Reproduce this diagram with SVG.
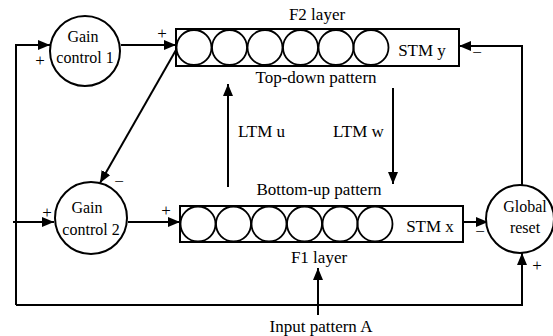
<svg xmlns="http://www.w3.org/2000/svg" width="553" height="336" viewBox="0 0 553 336">
<style>
text{font-family:"Liberation Serif","Times New Roman",serif;fill:#000}
.lbl{font-size:17px}
.nl{font-size:16px;text-anchor:middle}
.c{text-anchor:middle}
.ln{fill:none;stroke:#000;stroke-width:2}
.sh{fill:#fff;stroke:#000;stroke-width:2}
.cell{fill:none;stroke:#000;stroke-width:1.8}
.sg{font-size:17px;text-anchor:middle}
</style>
<defs>
<marker id="ah" markerWidth="12" markerHeight="10" refX="12" refY="5" orient="auto" markerUnits="userSpaceOnUse">
<path d="M0,0 L12,5 L0,10 Z" fill="#000"/>
</marker>
</defs>
<rect width="553" height="336" fill="#fff"/>
<g id="connectors">
<path class="ln" d="M16,305 V45 H50" marker-end="url(#ah)"/>
<path class="ln" d="M121,45 H176" marker-end="url(#ah)"/>
<path class="ln" d="M176,50 L100,183" marker-end="url(#ah)"/>
<path class="ln" d="M13,222 H54" marker-end="url(#ah)"/>
<path class="ln" d="M128,222 H180" marker-end="url(#ah)"/>
<path class="ln" d="M228,187 V84" marker-end="url(#ah)"/>
<path class="ln" d="M393,88 V184" marker-end="url(#ah)"/>
<path class="ln" d="M463,222 H488" marker-end="url(#ah)"/>
<path class="ln" d="M522,185 V46 H459" marker-end="url(#ah)"/>
<path class="ln" d="M16,305 H522 V253" marker-end="url(#ah)"/>
<path class="ln" d="M318,315 V268" marker-end="url(#ah)"/>
<text class="sg" x="162" y="39">+</text>
<text class="sg" x="40" y="66">+</text>
<text class="sg" x="47" y="218">+</text>
<text class="sg" x="166" y="216">+</text>
<text class="sg" x="537" y="271">+</text>
<text class="sg" x="477" y="58">−</text>
<text class="sg" x="119" y="187">−</text>
<text class="sg" x="480" y="237">−</text>
<text class="lbl" x="238" y="137">LTM u</text>
<text class="lbl" x="333" y="137">LTM w</text>
<text class="lbl c" x="321" y="332">Input pattern A</text>
</g>
<g id="gain1">
<circle class="sh" cx="85" cy="51" r="35"/>
<text class="nl" x="83" y="42">Gain</text>
<text class="nl" x="85" y="63">control 1</text>
</g>
<g id="gain2">
<circle class="sh" cx="91" cy="218" r="36"/>
<text class="nl" x="87" y="213">Gain</text>
<text class="nl" x="91" y="235">control 2</text>
</g>
<g id="reset">
<circle class="sh" cx="520" cy="219" r="34"/>
<text class="nl" x="525" y="212">Global</text>
<text class="nl" x="525" y="233">reset</text>
</g>
<g id="f2">
<rect class="sh" x="176" y="29" width="283" height="37"/>
<circle class="cell" cx="194" cy="47.5" r="17.5"/>
<circle class="cell" cx="229.5" cy="47.5" r="17.5"/>
<circle class="cell" cx="265" cy="47.5" r="17.5"/>
<circle class="cell" cx="300.5" cy="47.5" r="17.5"/>
<circle class="cell" cx="336" cy="47.5" r="17.5"/>
<circle class="cell" cx="371" cy="47.5" r="17.5"/>
<text class="lbl c" x="422" y="56">STM y</text>
<text class="lbl c" x="317" y="20">F2 layer</text>
<text class="lbl c" x="316" y="83">Top-down pattern</text>
</g>
<g id="f1">
<rect class="sh" x="180" y="206" width="283" height="36"/>
<circle class="cell" cx="198" cy="224" r="17.5"/>
<circle class="cell" cx="233.5" cy="224" r="17.5"/>
<circle class="cell" cx="269" cy="224" r="17.5"/>
<circle class="cell" cx="304.5" cy="224" r="17.5"/>
<circle class="cell" cx="340" cy="224" r="17.5"/>
<circle class="cell" cx="375" cy="224" r="17.5"/>
<text class="lbl c" x="430" y="232">STM x</text>
<text class="lbl c" x="319" y="195">Bottom-up pattern</text>
<text class="lbl c" x="319" y="263">F1 layer</text>
</g>
</svg>
